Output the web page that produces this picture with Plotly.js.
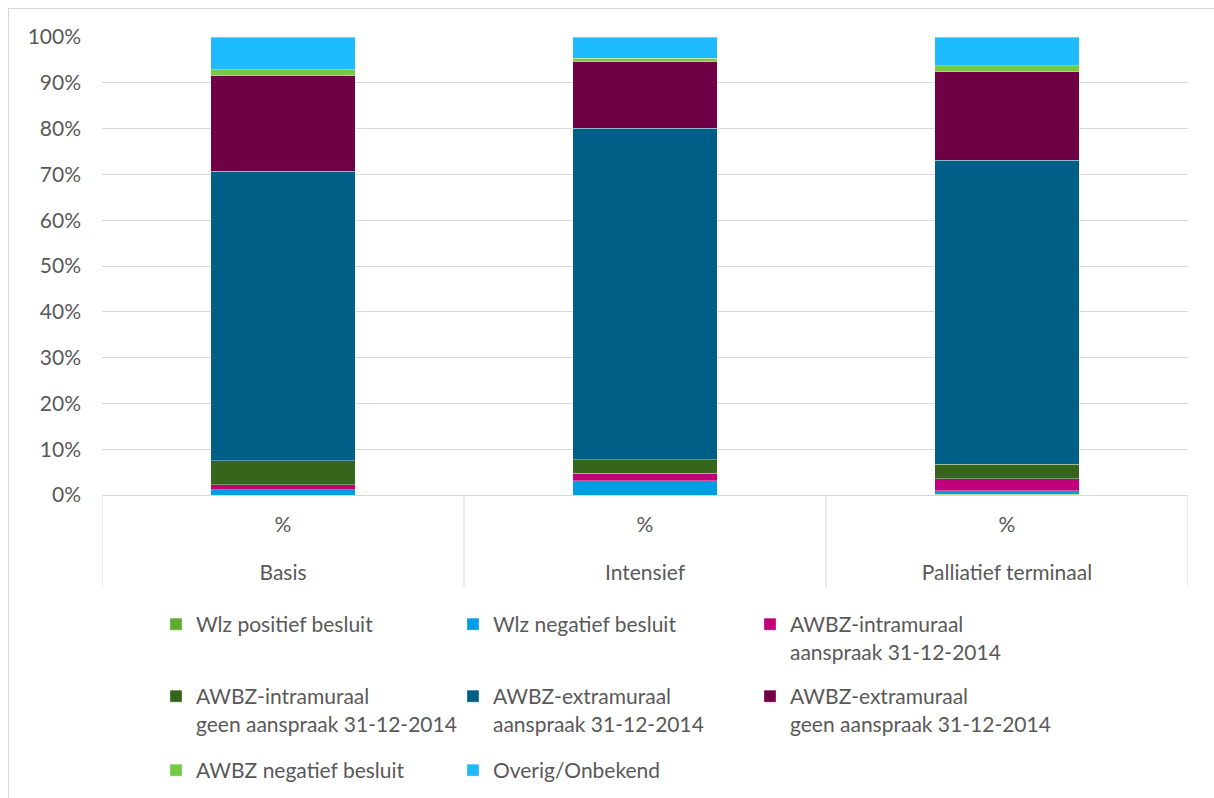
<!DOCTYPE html>
<html><head><meta charset="utf-8">
<script src="https://cdn.plot.ly/plotly-3.0.1.min.js"></script>
<style>
html,body{margin:0;padding:0;background:#fff;overflow:hidden;}
#frame{position:absolute;left:8px;top:8px;width:1300px;height:900px;border-left:1px solid #d9d9d9;border-top:1px solid #d9d9d9;pointer-events:none;z-index:5;}
#chart{position:absolute;left:0;top:0;width:1214px;height:798px;}
</style></head>
<body>
<div id="chart"></div><div id="frame"></div>
<script>
const categories = ["Basis", "Intensief", "Palliatief terminaal"];
const subLabels = ["%", "%", "%"];
const seriesNames = [
  "Wlz positief besluit",
  "Wlz negatief besluit",
  "AWBZ-intramuraal<br>aanspraak 31-12-2014",
  "AWBZ-intramuraal<br>geen aanspraak 31-12-2014",
  "AWBZ-extramuraal<br>aanspraak 31-12-2014",
  "AWBZ-extramuraal<br>geen aanspraak 31-12-2014",
  "AWBZ negatief besluit",
  "Overig/Onbekend"
];
const wlzPositief      = [0.0, 0.0, 0.2];
const wlzNegatief      = [1.1, 3.1, 0.7];
const intraAanspraak   = [1.1, 1.6, 2.6];
const intraGeen        = [5.3, 3.0, 3.2];
const extraAanspraak   = [63.2, 72.4, 66.4];
const extraGeen        = [20.8, 14.5, 19.3];
const awbzNegatief     = [1.3, 0.8, 1.3];
const overig           = [7.2, 4.6, 6.3];
const seriesValues = [wlzPositief, wlzNegatief, intraAanspraak, intraGeen, extraAanspraak, extraGeen, awbzNegatief, overig];
const colors = ["#5cad2e", "#009fe3", "#c0007a", "#36651c", "#005f87", "#700045", "#76c943", "#1ebcff"];
// legend rows: row 1 = legend (+ legend4 for the 3rd column), row 2 = legend2 (+ legend5), row 3 = legend3
const legendGroups = ["legend", "legend", "legend4", "legend2", "legend2", "legend5", "legend3", "legend3"];

const traces = seriesNames.map((n, i) => ({
  type: "bar",
  name: n,
  x: categories,
  y: seriesValues[i],
  width: 0.4,
  marker: {color: colors[i], line: {color: "rgba(255,255,255,0.45)", width: 0.75}},
  legend: legendGroups[i],
  hoverinfo: "y+name"
}));
// carrier for the inner "%" label row of the category axis
traces.push({type: "scatter", mode: "none", x: categories, y: [null, null, null],
  xaxis: "x2", yaxis: "y", showlegend: false, hoverinfo: "skip"});

const font = {family: "Lato, 'Open Sans', sans-serif", size: 21, color: "#595959"};
const legendBase = {orientation: "h", entrywidth: 252, entrywidthmode: "pixels", traceorder: "normal",
  font: font, xanchor: "left", yanchor: "top", x: 0.0497, yref: "container", valign: "top",
  bgcolor: "rgba(0,0,0,0)", itemclick: false, itemdoubleclick: false};
const col3x = (750 - 102) / 1086;

const H = 798;
const cy = py => 1 - py / H;
const pxToPaper = py => (495 - py) / 458;
const dividerShapes = [-0.5, 0.5, 1.5, 2.5].map(xv => ({
  type: "line", xref: "x", yref: "paper", x0: xv, x1: xv, y0: 0, y1: pxToPaper(587),
  line: {color: "#d9d9d9", width: 1}
}));

const layout = {
  width: 1214, height: 798,
  margin: {l: 102, r: 26, t: 37, b: 303},
  paper_bgcolor: "#fff", plot_bgcolor: "#fff",
  barmode: "stack",
  font: font,
  showlegend: true,
  xaxis: {
    type: "category", range: [-0.5, 2.5],
    tickvals: categories, ticktext: categories,
    ticks: "", ticklabelstandoff: 59,
    showline: true, linecolor: "#d9d9d9", linewidth: 1,
    tickfont: font, fixedrange: true, automargin: false
  },
  xaxis2: {
    type: "category", range: [-0.5, 2.5], overlaying: "x", anchor: "y", side: "bottom",
    tickvals: categories, ticktext: subLabels,
    ticks: "", ticklabelstandoff: 15, showgrid: false, showline: false, zeroline: false,
    tickfont: font, fixedrange: true, automargin: false
  },
  yaxis: {
    range: [0, 100], dtick: 10, ticksuffix: "%",
    gridcolor: "#d9d9d9", gridwidth: 1, zeroline: false,
    ticks: "", ticklabelstandoff: 20, tickfont: font, fixedrange: true, automargin: false
  },
  legend: Object.assign({}, legendBase, {y: cy(604)}),
  legend2: Object.assign({}, legendBase, {y: cy(676)}),
  legend3: Object.assign({}, legendBase, {y: cy(750)}),
  legend4: Object.assign({}, legendBase, {y: cy(604), x: col3x, entrywidth: null, entrywidthmode: undefined}),
  legend5: Object.assign({}, legendBase, {y: cy(676), x: col3x, entrywidth: null, entrywidthmode: undefined}),
  shapes: dividerShapes
};
delete layout.legend4.entrywidth; delete layout.legend4.entrywidthmode;
delete layout.legend5.entrywidth; delete layout.legend5.entrywidthmode;

Plotly.newPlot("chart", traces, layout, {displayModeBar: false});
</script>
</body></html>
